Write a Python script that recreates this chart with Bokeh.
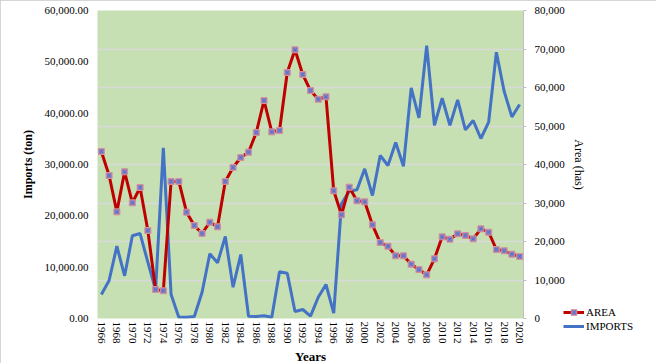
from bokeh.plotting import figure
from bokeh.layouts import column
from bokeh.models import (Range1d, LinearAxis, FixedTicker, NumeralTickFormatter,
                          Legend, LegendItem)
from bokeh.embed import file_html
from bokeh.resources import INLINE

years = list(range(1966, 2021))
area = [32530, 27860, 20780, 28580, 22540, 25520, 17140, 5650, 5400, 26690,
        26690, 20710, 18120, 16560, 18760, 17860, 26690, 29410, 31360, 32400,
        36230, 42470, 36360, 36620, 47920, 52340, 47530, 44410, 42720, 43190,
        24870, 20200, 25580, 22930, 22730, 18250, 14800, 14080, 12210, 12210,
        10580, 9545, 8510, 11630, 15910, 15450, 16500, 16170, 15520, 17470,
        16810, 13440, 13190, 12530, 12080]
imports = [6230, 9870, 18780, 11090, 21480, 22070, 14620, 7450, 44330, 6230,
           340, 340, 520, 6830, 16800, 14460, 21300, 8130, 16620, 600,
           520, 700, 340, 12130, 11760, 1820, 2340, 600, 5530, 8830,
           1380, 29790, 33060, 33420, 38880, 31940, 42330, 39730, 45710, 39550,
           59910, 52120, 70900, 50200, 57210, 50200, 56800, 49000, 51420, 46750,
           50980, 69160, 59030, 52380, 55580]
x_ticks = list(range(1966, 2021, 2))
left_ticks = [0, 10000, 20000, 30000, 40000, 50000, 60000]
right_ticks = [0, 10000, 20000, 30000, 40000, 50000, 60000, 70000, 80000]
series_names = ["AREA", "IMPORTS"]
left_title = "Imports (ton)"
right_title = "Area (has)"
x_title = "Years"

FONT = "Liberation Serif"
RED = "#c00000"
BLUE = "#4472c4"
SQ_FILL = "#8a7fc0"
SQ_LINE = "#d98f96"
X_LINE = "#4a6fd0"

p = figure(frame_width=426, frame_height=308, output_backend="svg",
           toolbar_location=None,
           x_range=Range1d(1965.5, 2020.5), y_range=Range1d(0, 80000),
           y_axis_location="right",
           min_border_left=97, min_border_right=133, min_border_top=10,
           min_border_bottom=45)
p.background_fill_color = "#c6e0b4"
p.border_fill_color = "white"
p.outline_line_color = None
p.extra_y_ranges = {"area": Range1d(0, 60000)}
p.styles = {"outline": "1px solid #c8c8c8", "outline-offset": "-1px"}

# right axis (default) + grid
ry = p.yaxis[0]
ry.ticker = FixedTicker(ticks=right_ticks)
ry.formatter = NumeralTickFormatter(format="0,0")
ry.axis_line_color = "#bfbfbf"
ry.major_tick_line_color = "#bfbfbf"
ry.major_tick_out = 3
ry.major_tick_in = 0
ry.minor_tick_line_color = None
ry.major_label_standoff = 8
ry.major_label_text_font = FONT
ry.major_label_text_font_size = "11px"
ry.major_label_text_color = "black"
ry.axis_label = right_title
ry.axis_label_standoff = 4
ry.axis_label_text_font = FONT
ry.axis_label_text_font_style = "normal"
ry.axis_label_text_font_size = "12px"
ry.axis_label_text_color = "black"

p.ygrid.ticker = FixedTicker(ticks=right_ticks)
p.ygrid.grid_line_color = "#d9d9d9"
p.ygrid.grid_line_width = 1.5
p.xgrid.grid_line_color = None

# left axis
ly = LinearAxis(y_range_name="area", ticker=FixedTicker(ticks=left_ticks),
                formatter=NumeralTickFormatter(format="0,0.00"))
ly.axis_line_color = None
ly.major_tick_line_color = None
ly.major_tick_out = 0
ly.major_tick_in = 0
ly.minor_tick_line_color = None
ly.major_label_standoff = 9
ly.major_label_text_font = FONT
ly.major_label_text_font_size = "11px"
ly.major_label_text_color = "black"
ly.axis_label = left_title
ly.axis_label_standoff = 7
ly.axis_label_text_font = FONT
ly.axis_label_text_font_style = "bold"
ly.axis_label_text_font_size = "12px"
ly.axis_label_text_color = "black"
p.add_layout(ly, "left")

# x axis
xa = p.xaxis[0]
xa.ticker = FixedTicker(ticks=x_ticks)
xa.axis_line_color = None
xa.major_tick_line_color = None
xa.major_tick_out = 0
xa.major_tick_in = 0
xa.minor_tick_line_color = None
xa.major_label_orientation = "vertical"
xa.major_label_standoff = 3
xa.major_label_text_font = FONT
xa.major_label_text_font_size = "11px"
xa.major_label_text_color = "black"
xa.axis_label = x_title
xa.axis_label_standoff = 2
xa.axis_label_text_font = FONT
xa.axis_label_text_font_style = "bold"
xa.axis_label_text_font_size = "13px"
xa.axis_label_text_color = "black"

# series
p.line(years, imports, line_color=BLUE, line_width=3)
p.line(years, area, y_range_name="area", line_color=RED, line_width=3)
p.scatter(years, area, y_range_name="area", marker="square", size=6,
          fill_color=SQ_FILL, line_color=SQ_LINE, line_width=1)
p.scatter(years, area, y_range_name="area", marker="x", size=4,
          line_color=X_LINE, line_width=1)

# transparent overlay at the chart's lower right carrying the legend
q = figure(width=78, height=209, output_backend="svg", toolbar_location=None,
           x_axis_type=None, y_axis_type=None, min_border=0,
           x_range=Range1d(0, 1), y_range=Range1d(0, 1))
q.outline_line_color = None
q.background_fill_alpha = 0
q.border_fill_alpha = 0
for g in q.grid:
    g.visible = False
# legend swatches: series data lies outside the overlay's ranges (invisible)
q_al = q.line(years, area, line_color=RED, line_width=3)
q_as = q.scatter(years, area, marker="square", size=6, fill_color=SQ_FILL,
                 line_color=SQ_LINE, line_width=1)
q_ax = q.scatter(years, area, marker="x", size=4, line_color=X_LINE, line_width=1)
q_im = q.line(years, imports, line_color=BLUE, line_width=3)
legend = Legend(items=[LegendItem(label=series_names[0], renderers=[q_al, q_as, q_ax]),
                       LegendItem(label=series_names[1], renderers=[q_im])],
                location="bottom_left", orientation="vertical",
                border_line_color=None, background_fill_alpha=0,
                label_text_font=FONT, label_text_font_size="11px",
                label_text_color="black",
                glyph_width=21, glyph_height=14, label_height=14,
                label_standoff=2, spacing=0, padding=0, margin=0)
q.add_layout(legend, "center")
q.margin = (-242, 0, 0, 563)

layout = column(p, q, spacing=0)
open("out.html", "w").write(file_html(layout, INLINE))
